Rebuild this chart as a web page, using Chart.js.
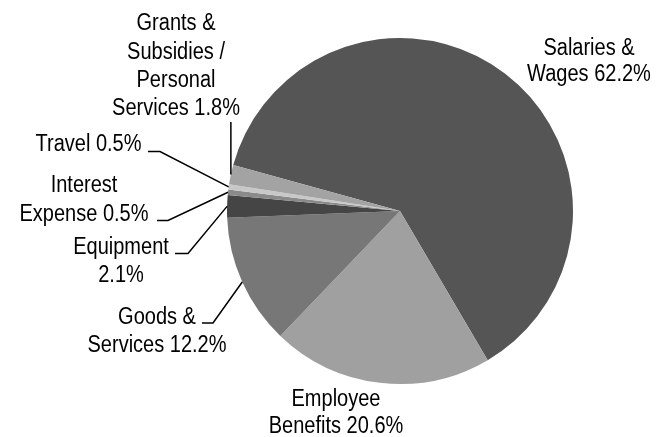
<!DOCTYPE html>
<html>
<head>
<meta charset="utf-8">
<script src="https://cdn.jsdelivr.net/npm/chart.js@4/dist/chart.umd.min.js"></script>
<style>
  html, body { margin: 0; padding: 0; background: #ffffff; }
  #wrap { width: 668px; height: 437px; position: relative; }
</style>
</head>
<body>
<div id="wrap"><canvas id="c" width="668" height="437"></canvas></div>
<script>
// ---- Data ----
const categories = [
  "Salaries & Wages",
  "Employee Benefits",
  "Goods & Services",
  "Equipment",
  "Interest Expense",
  "Travel",
  "Grants & Subsidies / Personal Services"
];
const values = [62.2, 20.6, 12.2, 2.1, 0.5, 0.5, 1.8];
const labelLines = [
  ["Salaries &", "Wages 62.2%"],
  ["Employee", "Benefits 20.6%"],
  ["Goods &", "Services 12.2%"],
  ["Equipment", "2.1%"],
  ["Interest", "Expense 0.5%"],
  ["Travel 0.5%"],
  ["Grants &", "Subsidies /", "Personal", "Services 1.8%"]
];

// ---- Styles / layout (kept separate from data) ----
const sliceColors = ["#555555", "#a0a0a0", "#777777", "#454545", "#8a8a8a", "#c8c8c8", "#a3a3a3"];
const textFont = '23px "Liberation Sans", Arial, sans-serif';
const textScaleX = 0.87;
// label text placement: centre x and line baselines
const labelLayout = [
  { cx: 589, base: [54.5, 81] },
  { cx: 336, base: [406, 433] },
  { cx: 157, base: [323.5, 352] },
  { cx: 121, base: [253.5, 282] },
  { cx: 84,  base: [192, 221] },
  { cx: 88.5, base: [150.5] },
  { cx: 176, base: [30, 58.5, 87, 115] }
];
// leader lines: null = none; h = horizontal stub [x1, x2, y]; v = vertical to y
const leaderLayout = [
  null,
  null,
  { h: [202, 213, 323] },
  { h: [175, 188, 253.5] },
  { h: [157, 168, 220.5] },
  { h: [148, 160, 151.5] },
  { v: 122 }
];

const labelPlugin = {
  id: 'outLabels',
  afterDraw(chart) {
    const ctx = chart.ctx;
    const meta = chart.getDatasetMeta(0);
    ctx.save();
    // leaders
    ctx.strokeStyle = '#000000';
    ctx.lineWidth = 1.5;
    meta.data.forEach((arc, i) => {
      const L = leaderLayout[i];
      if (!L) return;
      const p = arc.getProps(['x', 'y', 'startAngle', 'endAngle', 'outerRadius'], true);
      const mid = (p.startAngle + p.endAngle) / 2;
      const ex = p.x + Math.cos(mid) * p.outerRadius;
      const ey = p.y + Math.sin(mid) * p.outerRadius;
      ctx.beginPath();
      if (L.h) {
        ctx.moveTo(L.h[0], L.h[2]);
        ctx.lineTo(L.h[1], L.h[2]);
        ctx.lineTo(ex, ey);
      } else if (L.v !== undefined) {
        ctx.moveTo(ex, L.v);
        ctx.lineTo(ex, ey);
      }
      ctx.stroke();
    });
    // text
    ctx.fillStyle = '#000000';
    ctx.font = textFont;
    ctx.textAlign = 'center';
    ctx.textBaseline = 'alphabetic';
    labelLines.forEach((lines, i) => {
      const lay = labelLayout[i];
      lines.forEach((t, j) => {
        ctx.save();
        ctx.translate(lay.cx, lay.base[j]);
        ctx.scale(textScaleX, 1);
        ctx.fillText(t, 0, 0);
        ctx.restore();
      });
    });
    ctx.restore();
  }
};

new Chart(document.getElementById('c'), {
  type: 'pie',
  data: {
    labels: categories,
    datasets: [{
      data: values,
      backgroundColor: sliceColors,
      borderWidth: 0,
      hoverOffset: 0
    }]
  },
  options: {
    responsive: false,
    animation: false,
    rotation: -74.6,
    layout: { padding: { top: 38, bottom: 53, left: 227, right: 95 } },
    plugins: {
      legend: { display: false },
      tooltip: { enabled: false }
    }
  },
  plugins: [labelPlugin]
});
</script>
</body>
</html>
